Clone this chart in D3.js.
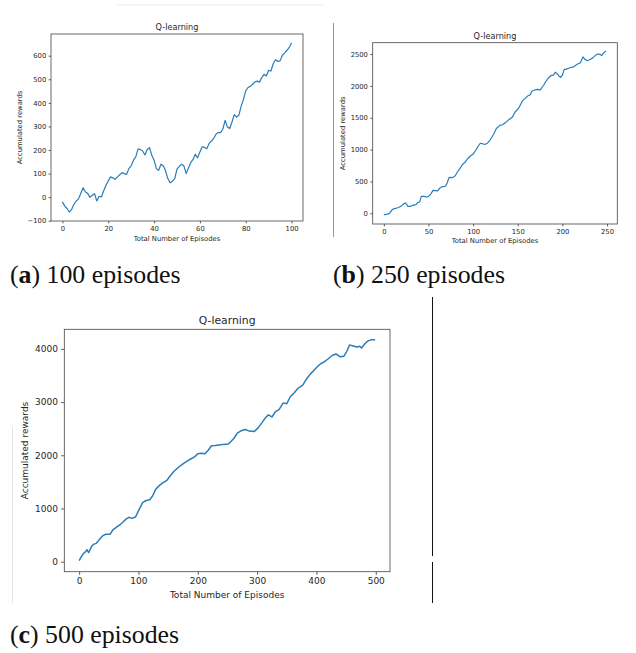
<!DOCTYPE html>
<html>
<head>
<style>
  body { margin: 0; background: #fff; }
  svg text { font-family: "DejaVu Sans", sans-serif; fill: #262626; }
  svg .caption { font-family: "Liberation Serif", serif; fill: #111; }
</style>
<script src="https://cdn.jsdelivr.net/npm/d3@7/dist/d3.min.js"></script>
</head>
<body>
<svg width="636" height="653"></svg>
<script>
// (a) 100 episodes, one value per episode
const epsA = d3.range(0, 101);
const rewardsA = [
  -20, -38, -48, -63, -52, -30, -17, -7, 16, 40,
  23, 16, -1, 8, 15, -16, 4, 1, 27, 51,
  69, 86, 82, 76, 86, 95, 104, 100, 97, 121,
  133, 157, 171, 205, 202, 196, 179, 202, 210, 178,
  157, 121, 114, 140, 133, 112, 79, 61, 68, 79,
  119, 131, 140, 133, 100, 124, 147, 160, 182, 167,
  192, 214, 211, 205, 228, 237, 249, 267, 274, 274,
  288, 326, 298, 291, 319, 350, 340, 347, 386, 415,
  451, 465, 470, 479, 489, 492, 488, 507, 521, 514,
  538, 535, 566, 583, 576, 578, 602, 612, 623, 635,
  655
];
const xTicksA = [0, 20, 40, 60, 80, 100];
const yTicksA = [-100, 0, 100, 200, 300, 400, 500, 600];

// (b) 250 episodes, read at the visible turning points
const epsB = [0, 3, 5, 7, 9, 11, 14, 17, 20, 22, 24, 25, 27, 30, 33, 36, 38, 40, 42, 45,
  48, 50, 53, 55, 58, 60, 63, 66, 69, 71, 73, 75, 77, 80, 82, 85, 88, 91, 94, 97,
  100, 103, 106, 108, 110, 113, 116, 119, 123, 126, 130, 133, 136, 140, 144, 147, 151, 155, 158, 161,
  164, 166, 170, 173, 175, 179, 181, 184, 187, 190, 192, 194, 196, 198, 200, 202, 206, 209, 212, 215,
  218, 220, 223, 225, 228, 231, 234, 237, 240, 242, 244, 246, 249];
const rewardsB = [-20, -18, -10, 10, 50, 70, 80, 95, 120, 145, 160, 150, 108, 110, 128, 135, 170, 175, 265, 268,
  255, 265, 310, 360, 355, 350, 400, 420, 425, 480, 560, 565, 560, 590, 640, 700, 765, 800, 860, 900,
  930, 990, 1060, 1100, 1095, 1080, 1100, 1150, 1240, 1330, 1380, 1390, 1420, 1470, 1510, 1590, 1650, 1760, 1800, 1840,
  1860, 1920, 1940, 1945, 1935, 2010, 2060, 2120, 2160, 2170, 2215, 2190, 2160, 2135, 2170, 2255, 2270, 2290, 2295, 2325,
  2350, 2360, 2455, 2420, 2395, 2415, 2440, 2480, 2500, 2495, 2475, 2515, 2550];
const xTicksB = [0, 50, 100, 150, 200, 250];
const yTicksB = [0, 500, 1000, 1500, 2000, 2500];

// (c) 500 episodes
const epsC = [0, 4, 7, 11, 13, 16, 21, 25, 29, 34, 40, 45, 52, 57, 63, 69, 74, 79, 84, 89,
  95, 101, 107, 113, 119, 124, 129, 135, 141, 148, 154, 160, 168, 175, 182, 188, 195, 200, 206, 212,
  218, 223, 229, 236, 243, 251, 256, 261, 267, 274, 280, 287, 295, 302, 308, 313, 319, 325, 331, 337,
  344, 350, 356, 363, 369, 377, 383, 390, 396, 401, 407, 413, 420, 427, 433, 440, 446, 451, 456, 462,
  468, 473, 476, 482, 487, 492, 499];
const rewardsC = [20, 100, 150, 190, 225, 170, 290, 330, 345, 415, 490, 515, 515, 600, 650, 695, 745, 800, 835, 815,
  840, 980, 1110, 1150, 1165, 1240, 1360, 1430, 1480, 1530, 1620, 1700, 1780, 1840, 1890, 1930, 1975, 2030, 2040, 2030,
  2100, 2180, 2185, 2195, 2205, 2210, 2260, 2320, 2420, 2465, 2485, 2455, 2445, 2520, 2610, 2690, 2760, 2720, 2820, 2860,
  2985, 2970, 3100, 3180, 3260, 3320, 3430, 3530, 3600, 3660, 3720, 3755, 3815, 3880, 3905, 3850, 3860, 3950, 4075, 4055,
  4035, 4050, 4015, 4100, 4150, 4170, 4170];
const xTicksC = [0, 100, 200, 300, 400, 500];
const yTicksC = [0, 1000, 2000, 3000, 4000];

const captions = ["a", "b", "c"];
const captionTexts = [" 100 episodes", " 250 episodes", " 500 episodes"];

const svg = d3.select("svg");
const fmt = d => d < 0 ? "\u2212" + Math.abs(d) : String(d);

function drawPanel(o) {
  const g = svg.append("g");
  const x = d3.scaleLinear().domain(o.xDomain).range([o.left, o.right]);
  const y = d3.scaleLinear().domain(o.yDomain).range([o.bottom, o.top]);
  const fs = o.fs;
  const tl = fs * 0.35;

  const xa = g.append("g")
    .attr("transform", "translate(0," + o.bottom + ")")
    .call(d3.axisBottom(x).tickValues(o.xTicks).tickSize(tl).tickPadding(tl).tickFormat(fmt));
  const ya = g.append("g")
    .attr("transform", "translate(" + o.left + ",0)")
    .call(d3.axisLeft(y).tickValues(o.yTicks).tickSize(tl).tickPadding(tl).tickFormat(fmt));
  [xa, ya].forEach(a => {
    a.select(".domain").remove();
    a.selectAll("line").attr("stroke", "#333").attr("stroke-width", 0.8);
    a.selectAll("text").style("font-size", fs + "px").attr("fill", "#262626");
  });

  g.append("path")
    .datum(o.xs.map((d, i) => [d, o.ys[i]]))
    .attr("fill", "none")
    .attr("stroke", "#2a7dba")
    .attr("stroke-width", o.lw)
    .attr("stroke-linejoin", "round")
    .attr("d", d3.line().x(d => x(d[0])).y(d => y(d[1])));

  g.append("rect")
    .attr("x", o.left).attr("y", o.top)
    .attr("width", o.right - o.left).attr("height", o.bottom - o.top)
    .attr("fill", "none").attr("stroke", "#444").attr("stroke-width", 0.8);

  const cx = (o.left + o.right) / 2;
  g.append("text").attr("x", cx).attr("y", o.top - fs * 0.6)
    .attr("text-anchor", "middle").style("font-size", (fs * 1.2) + "px")
    .text("Q-learning");
  g.append("text").attr("x", cx).attr("y", o.xLabelY + fs * 0.35)
    .attr("text-anchor", "middle").style("font-size", fs + "px")
    .text("Total Number of Episodes");
  g.append("text")
    .attr("transform", "translate(" + (o.yLabelX + fs * 0.35) + "," + ((o.top + o.bottom) / 2) + ") rotate(-90)")
    .attr("text-anchor", "middle").style("font-size", fs + "px")
    .text("Accumulated rewards");
}

drawPanel({ left: 51, right: 303, top: 34, bottom: 221, xDomain: [-5, 105], yDomain: [-101, 692],
  xTicks: xTicksA, yTicks: yTicksA, xs: epsA, ys: rewardsA, fs: 6.8, lw: 1.2, xLabelY: 239, yLabelX: 20 });
drawPanel({ left: 372.7, right: 617.3, top: 42.7, bottom: 224, xDomain: [-12.5, 261.5], yDomain: [-168, 2678],
  xTicks: xTicksB, yTicks: yTicksB, xs: epsB, ys: rewardsB, fs: 6.8, lw: 1.2, xLabelY: 240.7, yLabelX: 343 });
drawPanel({ left: 64.3, right: 390, top: 329.3, bottom: 571.7, xDomain: [-25, 524], yDomain: [-188, 4368],
  xTicks: xTicksC, yTicks: yTicksC, xs: epsC, ys: rewardsC, fs: 9, lw: 1.5, xLabelY: 594.7, yLabelX: 25 });

// stray page rules around the sub-figures
svg.append("line").attr("x1", 117).attr("x2", 325).attr("y1", 5).attr("y2", 5)
  .attr("stroke", "#eee").attr("stroke-width", 1);
svg.append("line").attr("x1", 333.5).attr("x2", 333.5).attr("y1", 23).attr("y2", 237)
  .attr("stroke", "#999").attr("stroke-width", 1);
svg.append("line").attr("x1", 432.5).attr("x2", 432.5).attr("y1", 297).attr("y2", 556)
  .attr("stroke", "#111").attr("stroke-width", 1);
svg.append("line").attr("x1", 432.5).attr("x2", 432.5).attr("y1", 562).attr("y2", 603)
  .attr("stroke", "#111").attr("stroke-width", 1);
svg.append("line").attr("x1", 12.5).attr("x2", 12.5).attr("y1", 427).attr("y2", 603)
  .attr("stroke", "#e4e4e4").attr("stroke-width", 1);

// captions
const capPos = [[10, 283], [333, 283], [10, 643]];
captions.forEach((c, i) => {
  const t = svg.append("text").attr("class", "caption")
    .attr("x", capPos[i][0]).attr("y", capPos[i][1])
    .style("font-size", "25.8px");
  t.append("tspan").text("(");
  t.append("tspan").style("font-weight", "bold").text(c);
  t.append("tspan").text(")" + captionTexts[i]);
});
</script>
</body>
</html>
